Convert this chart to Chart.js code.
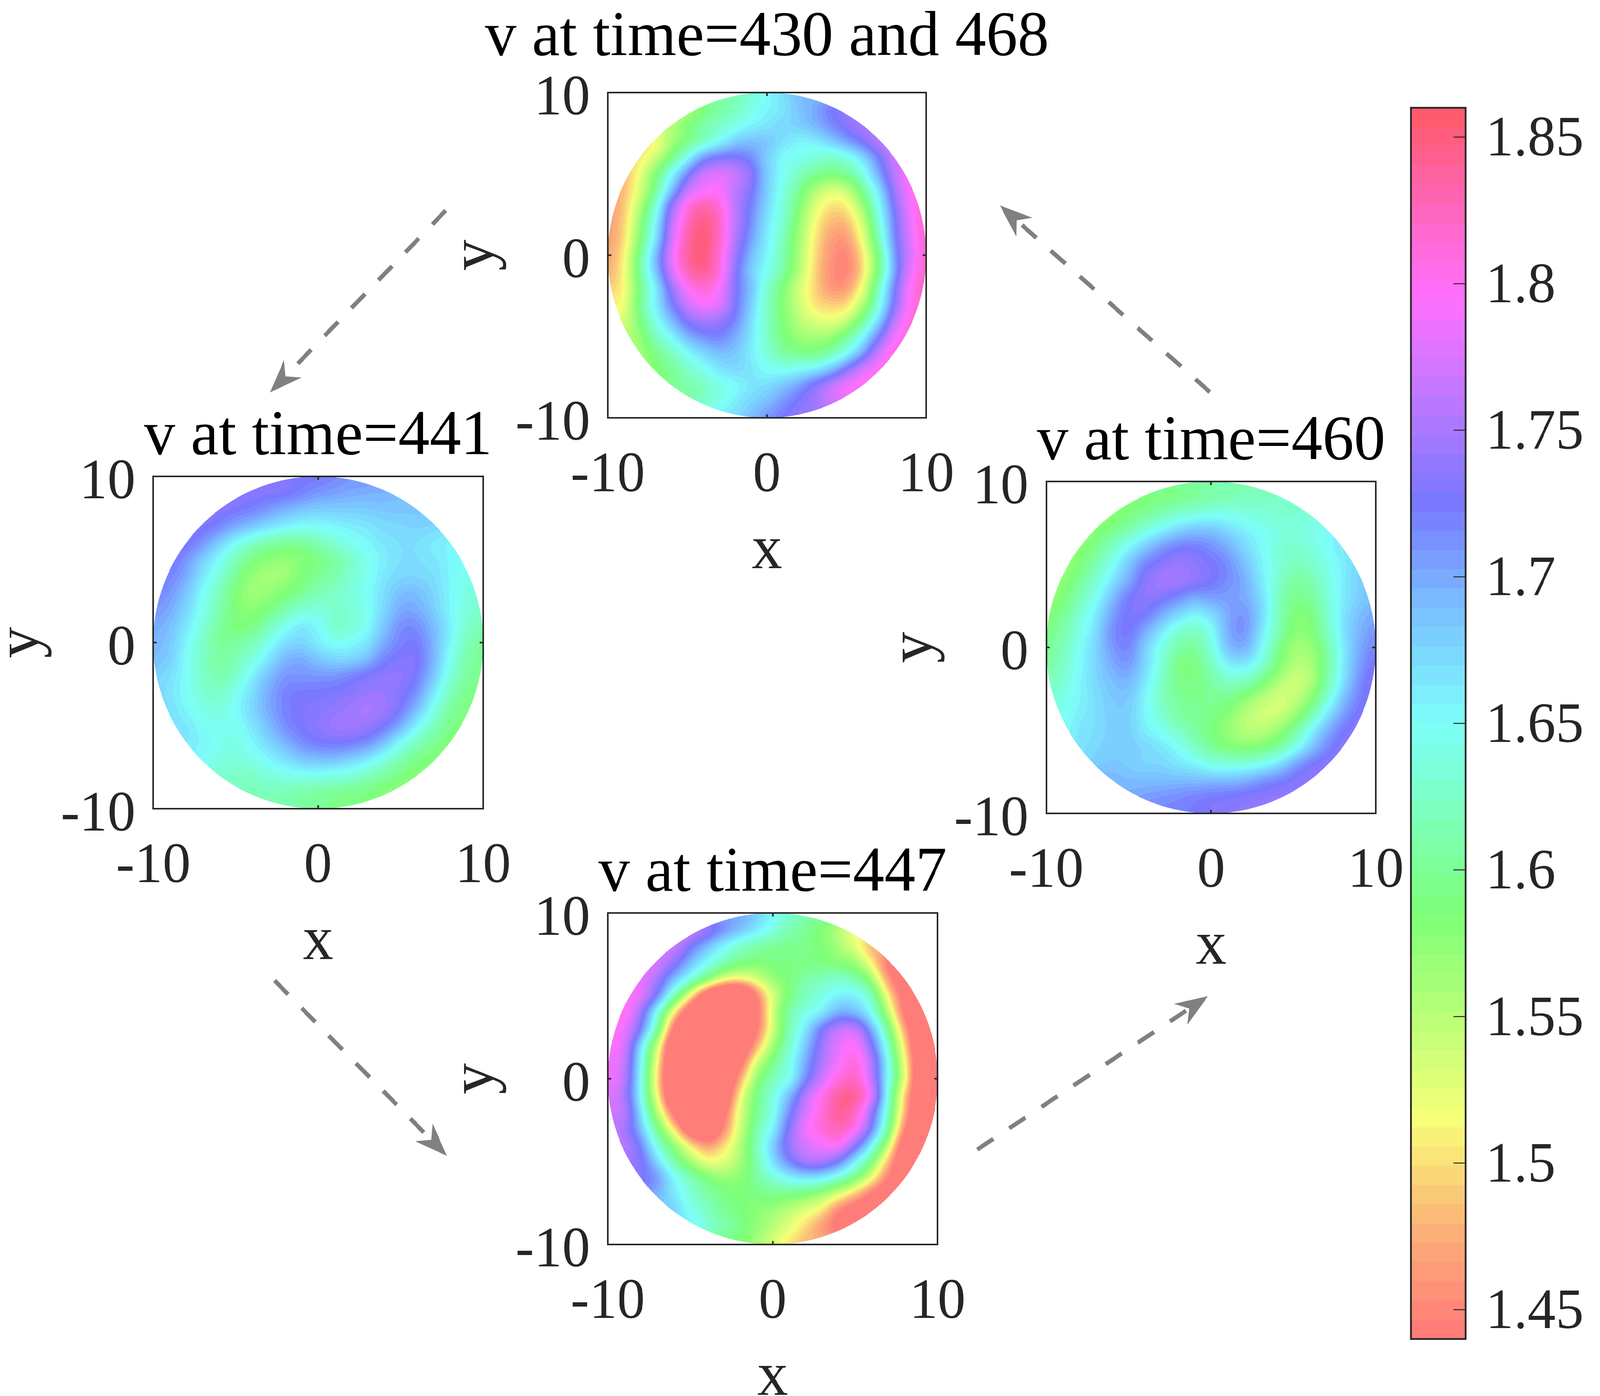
<!DOCTYPE html>
<html>
<head>
<meta charset="utf-8">
<script src="https://cdn.jsdelivr.net/npm/chart.js@4/dist/chart.umd.js"></script>
<style>
  html, body { margin: 0; padding: 0; background: #fff; overflow: hidden; }
  #page { position: relative; width: 4167px; height: 3575px; overflow: hidden; transform-origin: 0 0; }
  canvas { position: absolute; left: 0; top: 0; }
</style>
</head>
<body>
<div id="page"></div>
<script>
// values, in thousandths, rows from y=10 down to y=-10,
// each row centred on x=0 with one cell per x unit
const v430 = [
  [1610,1630,1650,1670,1690],
  [1555,1585,1605,1620,1640,1655,1665,1685,1700,1725,1740],
  [1550,1585,1610,1625,1640,1655,1665,1675,1680,1695,1715,1735,1750],
  [1495,1510,1560,1590,1620,1650,1680,1690,1685,1670,1655,1660,1680,1705,1730,1760,1780],
  [1500,1540,1590,1650,1710,1730,1730,1715,1680,1650,1645,1635,1625,1635,1670,1720,1770],
  [1480,1520,1585,1650,1720,1770,1780,1770,1740,1680,1650,1625,1600,1590,1600,1635,1700,1760,1800],
  [1470,1480,1530,1600,1685,1765,1790,1795,1760,1730,1680,1640,1600,1555,1530,1540,1600,1665,1745,1795,1810],
  [1465,1485,1550,1635,1740,1810,1835,1815,1760,1720,1675,1635,1585,1530,1500,1505,1565,1645,1730,1790,1815],
  [1465,1490,1570,1655,1760,1825,1850,1825,1760,1715,1665,1630,1575,1515,1480,1480,1535,1630,1720,1785,1820],
  [1465,1495,1580,1665,1770,1835,1855,1825,1755,1705,1660,1620,1565,1505,1465,1460,1520,1615,1715,1780,1820],
  [1470,1505,1600,1690,1785,1840,1855,1815,1745,1690,1655,1615,1560,1500,1460,1445,1500,1590,1705,1775,1820],
  [1475,1510,1605,1685,1775,1830,1845,1815,1735,1680,1645,1610,1555,1495,1455,1445,1495,1590,1700,1785,1820],
  [1490,1510,1590,1660,1740,1800,1815,1795,1730,1690,1630,1585,1535,1495,1460,1460,1520,1620,1720,1800,1825],
  [1510,1515,1600,1660,1720,1770,1795,1785,1730,1680,1625,1580,1540,1500,1490,1495,1550,1635,1730,1800,1820],
  [1530,1530,1585,1645,1690,1735,1750,1745,1720,1670,1625,1585,1550,1530,1520,1540,1600,1670,1760,1810,1820],
  [1550,1570,1620,1655,1695,1715,1720,1700,1665,1625,1590,1565,1560,1565,1600,1650,1720,1790,1815],
  [1560,1595,1620,1650,1675,1690,1685,1660,1635,1605,1595,1590,1610,1645,1700,1770,1810],
  [1565,1580,1600,1625,1645,1665,1675,1665,1650,1645,1650,1660,1685,1730,1775,1800,1810],
  [1595,1610,1620,1640,1650,1665,1670,1685,1705,1735,1765,1790,1800],
  [1610,1625,1640,1660,1675,1690,1710,1730,1745,1770,1785],
  [1670,1690,1710,1725,1740]
];
const v441 = [
  [1730,1728,1725,1718,1710],
  [1735,1733,1732,1730,1720,1710,1705,1700,1697,1695,1692],
  [1732,1728,1720,1708,1695,1685,1680,1680,1680,1682,1685,1685,1685],
  [1735,1732,1720,1700,1685,1670,1658,1650,1650,1655,1660,1665,1672,1675,1678,1675,1670],
  [1730,1710,1680,1650,1625,1610,1600,1600,1615,1630,1645,1655,1665,1670,1670,1660,1655],
  [1730,1710,1680,1650,1620,1590,1575,1570,1580,1590,1605,1625,1645,1660,1670,1670,1665,1655,1650],
  [1730,1720,1700,1665,1635,1600,1570,1560,1565,1585,1600,1610,1630,1645,1665,1675,1675,1670,1655,1645,1640],
  [1720,1710,1685,1650,1620,1585,1565,1570,1585,1600,1615,1625,1635,1650,1670,1690,1690,1675,1655,1640,1630],
  [1710,1700,1675,1645,1615,1585,1575,1590,1610,1630,1635,1630,1630,1645,1675,1700,1700,1680,1655,1635,1625],
  [1700,1690,1665,1635,1605,1585,1590,1615,1645,1665,1655,1625,1630,1650,1685,1715,1715,1690,1660,1630,1615],
  [1695,1685,1655,1625,1600,1605,1615,1645,1670,1675,1660,1645,1650,1665,1700,1720,1725,1695,1655,1620,1600],
  [1690,1680,1650,1625,1605,1615,1635,1665,1695,1700,1685,1675,1675,1690,1720,1730,1730,1695,1645,1610,1600],
  [1680,1670,1650,1625,1610,1625,1660,1690,1710,1710,1710,1710,1720,1730,1738,1738,1725,1685,1635,1605,1595],
  [1680,1665,1650,1630,1625,1645,1670,1700,1720,1725,1725,1728,1733,1742,1742,1733,1712,1665,1620,1595,1590],
  [1675,1670,1655,1640,1635,1650,1675,1700,1720,1728,1733,1738,1746,1752,1746,1725,1690,1645,1605,1590,1585],
  [1665,1665,1650,1645,1645,1665,1690,1715,1728,1736,1746,1748,1742,1728,1700,1655,1620,1595,1585],
  [1665,1655,1645,1640,1655,1675,1695,1715,1725,1728,1725,1715,1690,1650,1620,1600,1585],
  [1655,1650,1640,1635,1640,1655,1670,1685,1690,1690,1680,1665,1640,1615,1595,1585,1580],
  [1630,1625,1625,1635,1640,1645,1645,1640,1635,1620,1605,1590,1580],
  [1620,1615,1620,1615,1610,1605,1600,1595,1590,1580,1575],
  [1612,1608,1600,1595,1590]
];
const v447 = [
  [1700,1680,1655,1630,1610],
  [1770,1750,1715,1690,1665,1640,1615,1600,1580,1550,1520],
  [1770,1730,1690,1655,1625,1610,1600,1595,1595,1585,1560,1525,1475],
  [1790,1775,1740,1690,1650,1620,1595,1585,1590,1590,1590,1590,1580,1570,1510,1430,1400],
  [1785,1750,1690,1640,1590,1525,1510,1530,1570,1590,1610,1620,1630,1615,1570,1460,1400],
  [1800,1785,1720,1625,1515,1380,1310,1310,1440,1530,1590,1620,1640,1660,1660,1625,1510,1420,1350],
  [1810,1805,1745,1645,1510,1380,1300,1300,1360,1420,1540,1610,1640,1660,1700,1690,1650,1550,1430,1350,1350],
  [1800,1790,1725,1610,1430,1310,1300,1320,1360,1430,1535,1615,1665,1730,1765,1770,1700,1600,1470,1360,1350],
  [1795,1780,1670,1540,1370,1300,1300,1320,1370,1470,1565,1625,1685,1745,1785,1800,1735,1630,1500,1360,1350],
  [1790,1770,1655,1515,1350,1300,1300,1340,1420,1535,1595,1640,1700,1755,1790,1815,1760,1650,1520,1380,1350],
  [1790,1765,1650,1500,1350,1300,1300,1350,1470,1570,1620,1645,1715,1770,1810,1825,1765,1650,1530,1370,1350],
  [1780,1755,1650,1515,1360,1300,1300,1380,1510,1595,1635,1690,1760,1805,1840,1845,1790,1640,1490,1370,1350],
  [1770,1765,1670,1550,1430,1310,1300,1420,1530,1595,1640,1715,1775,1810,1845,1825,1745,1625,1480,1360,1350],
  [1760,1750,1690,1595,1505,1390,1360,1450,1535,1610,1655,1735,1790,1815,1830,1805,1725,1610,1445,1360,1350],
  [1770,1760,1720,1635,1575,1505,1460,1495,1550,1620,1680,1745,1775,1790,1800,1740,1660,1545,1400,1350,1350],
  [1745,1735,1675,1610,1565,1520,1525,1560,1610,1670,1720,1755,1755,1725,1660,1590,1480,1390,1350],
  [1730,1710,1655,1620,1590,1570,1575,1605,1630,1655,1665,1660,1630,1590,1520,1440,1380],
  [1715,1695,1665,1635,1610,1595,1585,1590,1595,1590,1580,1560,1525,1480,1430,1400,1380],
  [1680,1645,1625,1600,1590,1575,1565,1545,1525,1500,1440,1410,1400],
  [1660,1635,1615,1595,1575,1550,1525,1495,1460,1430,1400],
  [1585,1560,1530,1500,1480]
];
const v460 = [
  [1600,1605,1610,1612,1615],
  [1580,1585,1590,1595,1600,1610,1615,1620,1620,1625,1625],
  [1575,1590,1600,1615,1630,1640,1645,1645,1640,1635,1630,1630,1635],
  [1565,1580,1595,1615,1640,1660,1680,1690,1690,1675,1660,1650,1640,1635,1640,1650,1660],
  [1575,1595,1625,1655,1685,1710,1725,1725,1715,1700,1675,1655,1635,1625,1635,1650,1665],
  [1565,1585,1615,1645,1685,1720,1735,1745,1738,1728,1715,1690,1660,1635,1620,1625,1640,1660,1675],
  [1560,1575,1600,1630,1665,1700,1735,1750,1750,1738,1728,1715,1700,1665,1630,1605,1610,1635,1660,1680,1690],
  [1570,1585,1615,1645,1690,1725,1738,1730,1715,1700,1705,1705,1700,1675,1625,1595,1600,1630,1660,1680,1690],
  [1580,1600,1630,1660,1705,1728,1728,1700,1675,1655,1670,1700,1712,1680,1625,1585,1585,1625,1665,1690,1700],
  [1590,1610,1640,1670,1715,1728,1700,1665,1630,1620,1645,1700,1715,1670,1620,1580,1580,1620,1665,1695,1710],
  [1600,1615,1650,1675,1710,1720,1680,1640,1610,1600,1635,1690,1700,1660,1600,1565,1565,1605,1660,1700,1720],
  [1605,1625,1650,1675,1700,1710,1675,1635,1590,1590,1620,1660,1665,1640,1590,1555,1555,1600,1660,1705,1730],
  [1615,1630,1655,1675,1690,1695,1665,1625,1595,1590,1605,1625,1625,1600,1560,1535,1550,1605,1665,1715,1735],
  [1625,1640,1655,1670,1685,1685,1655,1620,1600,1595,1600,1600,1580,1555,1535,1540,1570,1625,1685,1720,1735],
  [1635,1645,1660,1670,1680,1680,1655,1630,1605,1600,1595,1580,1555,1535,1535,1560,1605,1660,1705,1730,1735],
  [1650,1665,1670,1680,1680,1660,1645,1625,1605,1590,1570,1550,1550,1565,1600,1650,1695,1725,1735],
  [1665,1675,1680,1680,1675,1665,1650,1625,1600,1585,1580,1585,1600,1635,1680,1715,1735],
  [1675,1680,1685,1680,1675,1675,1665,1655,1640,1635,1635,1645,1665,1700,1725,1735,1738],
  [1695,1690,1690,1690,1690,1690,1690,1690,1695,1710,1720,1730,1738],
  [1700,1705,1710,1715,1720,1725,1728,1732,1735,1738,1738],
  [1720,1725,1730,1735,1738]
];

const axisTicks = [-10, 0, 10];
const colorbarTicks = [1.45, 1.5, 1.55, 1.6, 1.65, 1.7, 1.75, 1.8, 1.85];
const colorbarLimits = [1.44, 1.86];
const levelCount = 64;
// value, r, g, b
const colormapStops = [
  [1.44, 255, 120, 120], [1.478, 252, 178, 120], [1.515, 247, 255, 120],
  [1.55, 186, 255, 120], [1.585, 125, 255, 120], [1.62, 125, 255, 190],
  [1.65, 125, 255, 250], [1.69, 122, 190, 255], [1.725, 120, 120, 255],
  [1.76, 188, 120, 255], [1.795, 255, 112, 255], [1.83, 255, 100, 178],
  [1.86, 255, 90, 100]
];
// arrows between the panels: tail and tip, in page pixels
const arrowPaths = [
  [[1161, 539], [703, 1005]],
  [[3151, 1004], [2604, 526]],
  [[715, 2511], [1164, 2960]],
  [[2545, 2944], [3146, 2551]]
];

const W = 4167, H = 3575;
const SERIF = '"Liberation Serif", "Times New Roman", serif';
const INK = '#262626';
const TICK_SIZE = 146, LABEL_SIZE = 160, TITLE_SIZE = 163;
const LINE = 4;
const YW = 381, XH = 383;
const Y_LABEL_DROP = 9;

// the browser window may come out narrower than the page, squeeze the page to fit
const fit = Math.min(1, window.innerWidth / W);
document.getElementById('page').style.transform = `scaleX(${fit})`;

function colorAt(v) {
  let i = 0;
  while (i < colormapStops.length - 2 && v > colormapStops[i + 1][0]) i++;
  const a = colormapStops[i], b = colormapStops[i + 1];
  const t = Math.max(0, Math.min(1, (v - a[0]) / (b[0] - a[0])));
  return [1, 2, 3].map(k => Math.round(a[k] + (b[k] - a[k]) * t));
}
const levelStep = (colorbarLimits[1] - colorbarLimits[0]) / levelCount;
const levelColors = Array.from({ length: levelCount }, (_, i) =>
  colorAt(colorbarLimits[0] + (i + 0.5) * levelStep));

// half catmull-rom, half b-spline: goes near the read values without ripples
function smooth(p0, p1, p2, p3, t) {
  const t2 = t * t, t3 = t2 * t;
  const cr = p1 + 0.5 * t * (p2 - p0 + t * (2 * p0 - 5 * p1 + 4 * p2 - p3 + t * (3 * (p1 - p2) + p3 - p0)));
  const bs = ((1 - t) * (1 - t) * (1 - t) * p0 + (3 * t3 - 6 * t2 + 4) * p1 + (-3 * t3 + 3 * t2 + 3 * t + 1) * p2 + t3 * p3) / 6;
  return 0.5 * cr + 0.5 * bs;
}

// filled contours of the grid held by dataset 0, placed through the chart's scales
const contourPlugin = {
  id: 'contour',
  beforeDatasetsDraw(chart) {
    const pts = chart.data.datasets[0].data;
    const g = new Float32Array(441).fill(NaN);
    pts.forEach(p => { g[(10 - p.y) * 21 + p.x + 10] = p.v; });
    for (let r = 0; r < 21; r++) {
      const row = g.subarray(r * 21, r * 21 + 21);
      const first = row.findIndex(v => !isNaN(v));
      const last = 20 - first;
      for (let c = 0; c < first; c++) row[c] = row[first];
      for (let c = last + 1; c < 21; c++) row[c] = row[last];
    }
    const at = (r, c) => g[Math.max(0, Math.min(20, r)) * 21 + Math.max(0, Math.min(20, c))];
    const { x: xs, y: ys } = chart.scales;
    const area = chart.chartArea;
    const x0 = Math.round(area.left), y0 = Math.round(area.top);
    const w = Math.round(area.right) - x0, h = Math.round(area.bottom) - y0;
    const off = document.createElement('canvas');
    off.width = w; off.height = h;
    const octx = off.getContext('2d');
    const img = octx.createImageData(w, h);
    for (let py = 0; py < h; py++) {
      const yv = ys.getValueForPixel(y0 + py + 0.5);
      for (let px = 0; px < w; px++) {
        const xv = xs.getValueForPixel(x0 + px + 0.5);
        if (xv * xv + yv * yv > 100) continue;
        const cf = xv + 10, rf = 10 - yv;
        const c = Math.floor(cf), r = Math.floor(rf), tx = cf - c, ty = rf - r;
        const a0 = smooth(at(r - 1, c - 1), at(r - 1, c), at(r - 1, c + 1), at(r - 1, c + 2), tx);
        const a1 = smooth(at(r, c - 1), at(r, c), at(r, c + 1), at(r, c + 2), tx);
        const a2 = smooth(at(r + 1, c - 1), at(r + 1, c), at(r + 1, c + 1), at(r + 1, c + 2), tx);
        const a3 = smooth(at(r + 2, c - 1), at(r + 2, c), at(r + 2, c + 1), at(r + 2, c + 2), tx);
        const v = smooth(a0, a1, a2, a3, ty) / 1000;
        let lv = Math.floor((v - colorbarLimits[0]) / levelStep);
        lv = Math.max(0, Math.min(levelCount - 1, lv));
        const col = levelColors[lv], o = (py * w + px) * 4;
        img.data[o] = col[0]; img.data[o + 1] = col[1]; img.data[o + 2] = col[2]; img.data[o + 3] = 255;
      }
    }
    octx.putImageData(img, 0, 0);
    chart.ctx.drawImage(off, x0, y0);
  }
};

// axes box with short inward ticks
const boxPlugin = {
  id: 'axesBox',
  afterDraw(chart) {
    const { ctx, chartArea: a, scales } = chart;
    ctx.save();
    ctx.strokeStyle = INK;
    ctx.lineWidth = LINE;
    ctx.strokeRect(a.left, a.top, a.right - a.left, a.bottom - a.top);
    ctx.beginPath();
    axisTicks.forEach(t => {
      const px = scales.x.getPixelForValue(t), py = scales.y.getPixelForValue(t);
      ctx.moveTo(px, a.bottom); ctx.lineTo(px, a.bottom - 9);
      ctx.moveTo(px, a.top); ctx.lineTo(px, a.top + 9);
      ctx.moveTo(a.left, py); ctx.lineTo(a.left + 9, py);
      ctx.moveTo(a.right, py); ctx.lineTo(a.right - 9, py);
    });
    ctx.stroke();
    ctx.restore();
  }
};

// y labels sit a little under their ticks in the original
function dropLabels(scale) {
  const compute = scale._computeLabelItems;
  scale._computeLabelItems = function (area) {
    const items = compute.call(this, area);
    items.forEach(it => { it.textOffset += Y_LABEL_DROP; });
    return items;
  };
}

function addCanvas() {
  const c = document.createElement('canvas');
  c.width = W; c.height = H;
  document.getElementById('page').appendChild(c);
  return c.getContext('2d');
}

function drawPanel(rows, box, title, titleGap) {
  const points = [];
  rows.forEach((row, r) => {
    const m = (row.length - 1) / 2;
    row.forEach((v, i) => points.push({ x: i - m, y: 10 - r, v }));
  });
  const axis = (label, extra) => Object.assign({
    type: 'linear', min: -10, max: 10,
    grid: { display: false, drawTicks: false },
    border: { display: false },
    title: { display: true, text: label, color: INK, padding: 0,
             font: { family: SERIF, size: LABEL_SIZE, lineHeight: 0.5 } }
  }, extra);
  const tickOpts = pad => ({
    color: INK, padding: pad, autoSkip: false, maxRotation: 0,
    font: { family: SERIF, size: TICK_SIZE }, callback: v => String(v)
  });
  const setTicks = s => { s.ticks = axisTicks.map(value => ({ value })); };
  // the built-in title squeezes long text to the axes width, so it is drawn here
  const titlePlugin = {
    id: 'panelTitle',
    afterDraw(chart) {
      const { ctx, chartArea: a } = chart;
      ctx.save();
      ctx.fillStyle = '#000';
      ctx.font = `${TITLE_SIZE}px ${SERIF}`;
      ctx.textAlign = 'center';
      ctx.textBaseline = 'middle';
      ctx.fillText(title, (a.left + a.right) / 2, a.top - titleGap);
      ctx.restore();
    }
  };
  return new Chart(addCanvas(), {
    type: 'scatter',
    data: { datasets: [{ data: points, pointRadius: 0, pointHoverRadius: 0 }] },
    plugins: [contourPlugin, boxPlugin, titlePlugin],
    options: {
      responsive: false, animation: false, devicePixelRatio: 1,
      events: [],
      layout: { padding: {
        left: box.left - YW,
        right: W - box.right,
        top: box.top,
        bottom: H - box.bottom - XH
      } },
      plugins: { legend: { display: false }, tooltip: { enabled: false } },
      scales: {
        x: axis('x', { ticks: tickOpts(62), afterBuildTicks: setTicks, afterFit: s => { s.height = XH; } }),
        y: axis('y', { ticks: tickOpts(46), afterBuildTicks: setTicks, afterFit: s => { s.width = YW; dropLabels(s); } })
      }
    }
  });
}

drawPanel(v430, { left: 1583, right: 2412, top: 237, bottom: 1070 }, 'v at time=430 and 468', 139);
drawPanel(v441, { left: 399, right: 1258, top: 1220, bottom: 2071 }, 'v at time=441', 100);
drawPanel(v460, { left: 2725, right: 3583, top: 1233, bottom: 2083 }, 'v at time=460', 100);
drawPanel(v447, { left: 1583, right: 2442, top: 2338, bottom: 3187 }, 'v at time=447', 100);

// colour bar
new Chart(addCanvas(), {
  type: 'bar',
  data: {
    labels: [''],
    datasets: levelColors.map((c, i) => ({
      data: [[colorbarLimits[0] + i * levelStep, colorbarLimits[0] + (i + 1) * levelStep]],
      backgroundColor: `rgb(${c[0]},${c[1]},${c[2]})`,
      borderWidth: 0, barPercentage: 1, categoryPercentage: 1, grouped: false
    }))
  },
  plugins: [{
    id: 'barFrame',
    afterDraw(chart) {
      const { ctx, chartArea: a, scales } = chart;
      ctx.save();
      ctx.strokeStyle = INK;
      ctx.lineWidth = 4.5;
      ctx.strokeRect(a.left, a.top, a.right - a.left, a.bottom - a.top);
      ctx.lineWidth = 2.5;
      ctx.beginPath();
      colorbarTicks.forEach(t => {
        const py = scales.y.getPixelForValue(t);
        ctx.moveTo(a.right, py); ctx.lineTo(a.right - 32, py);
      });
      ctx.stroke();
      ctx.restore();
    }
  }],
  options: {
    responsive: false, animation: false, devicePixelRatio: 1,
    events: [],
    layout: { padding: { left: 3675, right: 0, top: 276, bottom: H - 3429 } },
    plugins: { legend: { display: false }, tooltip: { enabled: false } },
    scales: {
      x: { display: false },
      y: {
        position: 'right', min: colorbarLimits[0], max: colorbarLimits[1],
        grid: { display: false, drawTicks: false }, border: { display: false },
        ticks: { color: INK, padding: 52, autoSkip: false, font: { family: SERIF, size: TICK_SIZE },
                 callback: v => String(v) },
        afterBuildTicks: s => { s.ticks = colorbarTicks.map(value => ({ value })); },
        afterFit: s => { s.width = W - 3817; dropLabels(s); }
      }
    }
  }
});

// dashed arrows in page coordinates, the line stops short of the head
const HEAD_LEN = 85, HEAD_NOTCH = 58, HEAD_HALF = 32;
function neckPoint(p) {
  const dx = p[1][0] - p[0][0], dy = p[1][1] - p[0][1], len = Math.hypot(dx, dy);
  return { x: p[1][0] - dx / len * HEAD_NOTCH, y: p[1][1] - dy / len * HEAD_NOTCH };
}
new Chart(addCanvas(), {
  type: 'scatter',
  data: { datasets: arrowPaths.map(p => ({
    data: [{ x: p[0][0], y: p[0][1] }, neckPoint(p)],
    showLine: true, pointRadius: 0, borderColor: '#808080', borderWidth: 11,
    borderDash: [50, 50], borderCapStyle: 'butt'
  })) },
  plugins: [{
    id: 'arrowHeads',
    afterDatasetsDraw(chart) {
      const { ctx, scales } = chart;
      ctx.save();
      ctx.fillStyle = '#808080';
      arrowPaths.forEach(p => {
        const x1 = scales.x.getPixelForValue(p[1][0]), y1 = scales.y.getPixelForValue(p[1][1]);
        const x0 = scales.x.getPixelForValue(p[0][0]), y0 = scales.y.getPixelForValue(p[0][1]);
        ctx.save();
        ctx.translate(x1, y1);
        ctx.rotate(Math.atan2(y1 - y0, x1 - x0));
        ctx.beginPath();
        ctx.moveTo(0, 0);
        ctx.lineTo(-HEAD_LEN, HEAD_HALF);
        ctx.lineTo(-HEAD_NOTCH, 0);
        ctx.lineTo(-HEAD_LEN, -HEAD_HALF);
        ctx.closePath();
        ctx.fill();
        ctx.restore();
      });
      ctx.restore();
    }
  }],
  options: {
    responsive: false, animation: false, devicePixelRatio: 1,
    events: [],
    layout: { padding: 0 },
    plugins: { legend: { display: false }, tooltip: { enabled: false } },
    scales: {
      x: { type: 'linear', display: false, min: 0, max: W },
      y: { type: 'linear', display: false, min: 0, max: H, reverse: true }
    }
  }
});
</script>
</body>
</html>
